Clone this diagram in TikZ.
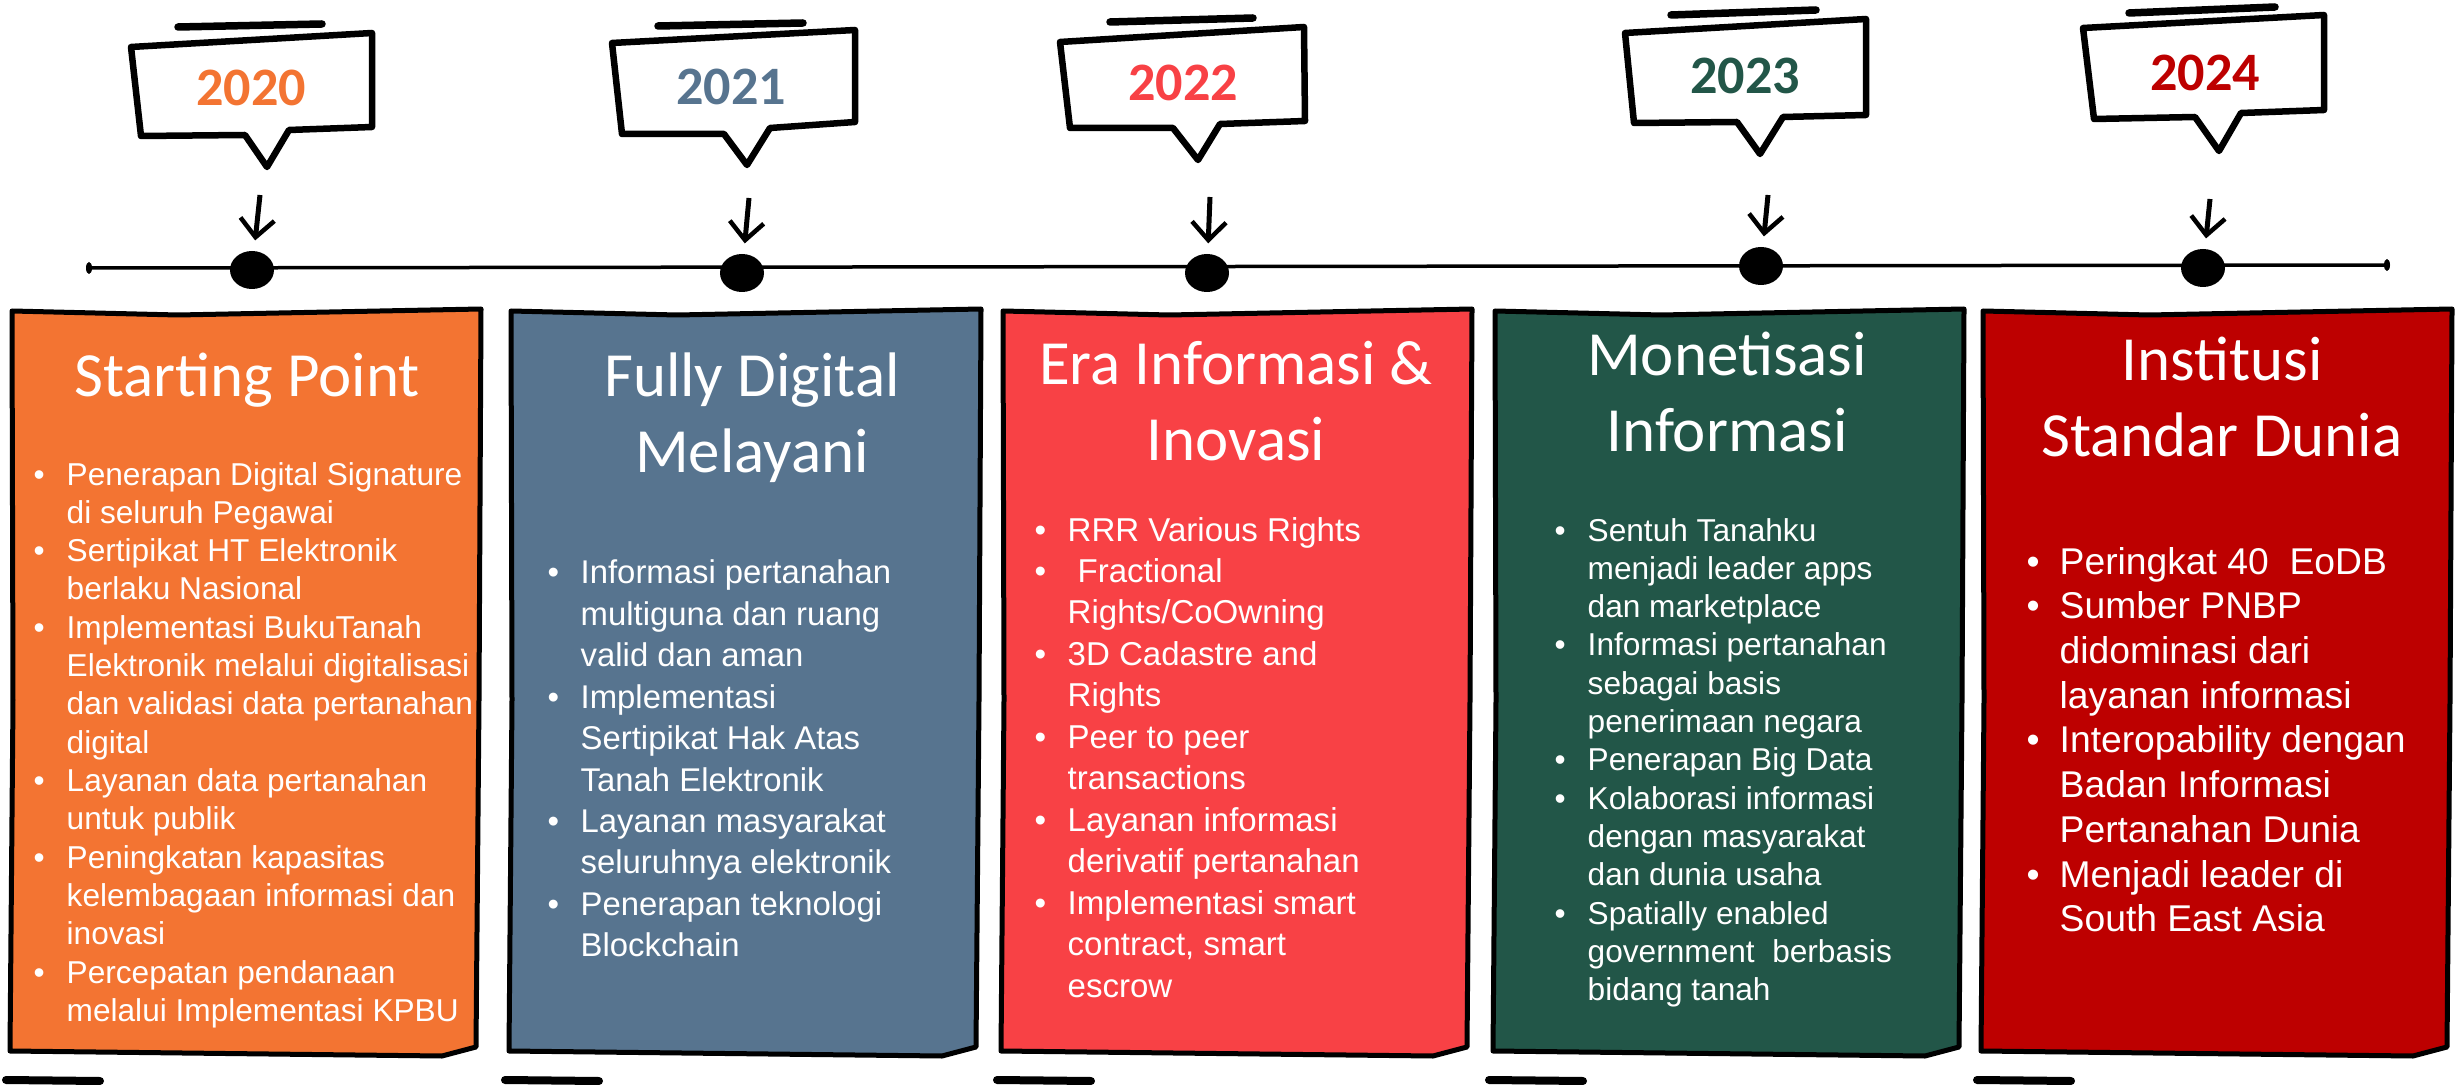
\documentclass[tikz,border=0pt]{standalone}
\usepackage{fontspec}
\usepackage{array}
\setmainfont{Liberation Sans}
\newfontfamily\titlefont{Carlito}
\usetikzlibrary{arrows.meta,positioning,calc,shapes.geometric}

\definecolor{orangeC}{HTML}{F37432}
\definecolor{slateC}{HTML}{57748F}
\definecolor{redC}{HTML}{F84145}
\definecolor{greenC}{HTML}{225648}
\definecolor{darkredC}{HTML}{BD0000}

\newcommand{\ttl}[1]{\begin{tabular}[t]{@{}c@{}}#1\end{tabular}}
\newcommand{\lst}[1]{\begin{tabular}[t]{@{}p{3.3mm}@{}l@{}}#1\end{tabular}}

\begin{document}
\begin{tikzpicture}[x=0.1mm, y=-0.1mm,
    card/.style={draw=black, line width=0.5mm, line join=round},
    bubble/.style={draw=black, fill=white, line width=0.65mm, line join=round, line cap=round},
    swoosh/.style={line width=0.75mm, line cap=round},
    tdot/.style={ellipse, fill=black, inner sep=0, minimum width=4.4mm, minimum height=3.8mm},
    yr/.style={font=\titlefont\bfseries\fontsize{15.4}{18}\selectfont, inner sep=0},
    head/.style={anchor=base, text=white, inner sep=0, font=\titlefont\fontsize{17.9}{21.5}\selectfont},
    body/.style={anchor=base west, text=white, inner sep=0},
    pointer/.style={-{Straight Barb[length=1.8mm,width=3.4mm,line width=0.45mm]}, line width=0.5mm, shorten >=1.0mm}]
  \useasboundingbox (0,0) rectangle (2460,1085);

  % timeline
  \coordinate (ts) at (89,268);
  \coordinate (te) at (2387,265);
  \draw[line width=0.35mm] (ts) -- (te);
  \fill (ts) ellipse (3 and 6);
  \fill (te) ellipse (3 and 6);
  \node[tdot] (d1) at (252,270) {};
  \node[tdot] (d2) at (742,273) {};
  \node[tdot] (d3) at (1207,273) {};
  \node[tdot] (d4) at (1761,266) {};
  \node[tdot] (d5) at (2203,268) {};

  % year bubbles
  \filldraw[bubble] (131,47) -- (372,33) -- (372,127) -- (289,130) -- (267,167) -- (245,135) -- (141,136) -- cycle;
  \draw[swoosh] (178,27) -- (322,24);
  \node[yr, text=orangeC] (y1) at (251,88) {2020};

  \filldraw[bubble] (612,43) -- (855,30) -- (855,122) -- (770,128) -- (747,165) -- (724,134) -- (622,134) -- cycle;
  \draw[swoosh] (658,26) -- (803,23);
  \node[yr, text=slateC] (y2) at (731,87) {2021};

  \filldraw[bubble] (1060,42) -- (1304,27) -- (1305,121) -- (1220,124) -- (1198,160) -- (1173,128) -- (1070,128) -- cycle;
  \draw[swoosh] (1110,22) -- (1253,18);
  \node[yr, text=redC] (y3) at (1183,83) {2022};

  \filldraw[bubble] (1625,33) -- (1866,19) -- (1866,115) -- (1783,117) -- (1760,154) -- (1737,122) -- (1634,123) -- cycle;
  \draw[swoosh] (1671,15) -- (1816,10);
  \node[yr, text=greenC] (y4) at (1745,76) {2023};

  \filldraw[bubble] (2083,28) -- (2324,15) -- (2324,110) -- (2241,113) -- (2219,151) -- (2195,117) -- (2094,119) -- cycle;
  \draw[swoosh] (2129,13) -- (2275,7);
  \node[yr, text=darkredC] (y5) at (2205,73) {2024};

  % arrows down to the dots
  \coordinate (a1) at (260,195);
  \coordinate (a2) at (749,198);
  \coordinate (a3) at (1210,197);
  \coordinate (a4) at (1768,195);
  \coordinate (a5) at (2210,199);
  \foreach \i in {1,...,5}
    \draw[pointer] (a\i) -- (d\i);

  % cards
  \foreach \l/\r/\c in {12/482/orangeC, 511/982/slateC, 1003/1473/redC, 1495/1965/greenC, 1983/2453/darkredC} {
    \filldraw[card, fill=\c] (\l,311) -- (\l+166,315) -- (\r-1,309) -- (\r-3,700) -- (\r-6,1047) -- (\r-40,1056)
      -- (\l-2,1051) -- (\l+1,700) -- cycle;
    \draw[line width=0.8mm, line cap=round] (\l-6,1080) -- (\l+88,1081);
  }

  \node[head] (t1) at (247,397) {\ttl{Starting Point}};
  \node[head] (t2) at (752,397) {\ttl{Fully Digital\\Melayani}};
  \node[head] (t3) at (1236,385) {\ttl{Era Informasi \&\\Inovasi}};
  \node[head] (t4) at (1727,376) {\ttl{Monetisasi\\Informasi}};
  \node[head] (t5) at (2222,381) {\ttl{Institusi\\Standar Dunia}};

  \node[body, font=\fontsize{9.0}{10.9}\selectfont] (l1) at (33,485) {\lst{%
    \textbullet & Penerapan Digital Signature\\
      & di seluruh Pegawai\\
    \textbullet & Sertipikat HT Elektronik\\
      & berlaku Nasional\\
    \textbullet & Implementasi BukuTanah\\
      & Elektronik melalui digitalisasi\\
      & dan validasi data pertanahan\\
      & digital\\
    \textbullet & Layanan data pertanahan\\
      & untuk publik\\
    \textbullet & Peningkatan kapasitas\\
      & kelembagaan informasi dan\\
      & inovasi\\
    \textbullet & Percepatan pendanaan\\
      & melalui Implementasi KPBU}};

  \node[body, font=\fontsize{9.35}{11.78}\selectfont] (l2) at (547,584) {\lst{%
    \textbullet & Informasi pertanahan\\
      & multiguna dan ruang\\
      & valid dan aman\\
    \textbullet & Implementasi\\
      & Sertipikat Hak Atas\\
      & Tanah Elektronik\\
    \textbullet & Layanan masyarakat\\
      & seluruhnya elektronik\\
    \textbullet & Penerapan teknologi\\
      & Blockchain}};

  \node[body, font=\fontsize{9.4}{11.8}\selectfont] (l3) at (1034,541) {\lst{%
    \textbullet & RRR Various Rights\\
    \textbullet & \hspace{0.3em}Fractional\\
      & Rights/CoOwning\\
    \textbullet & 3D Cadastre and\\
      & Rights\\
    \textbullet & Peer to peer\\
      & transactions\\
    \textbullet & Layanan informasi\\
      & derivatif pertanahan\\
    \textbullet & Implementasi smart\\
      & contract, smart\\
      & escrow}};

  \node[body, font=\fontsize{9}{10.9}\selectfont] (l4) at (1554,541) {\lst{%
    \textbullet & Sentuh Tanahku\\
      & menjadi leader apps\\
      & dan marketplace\\
    \textbullet & Informasi pertanahan\\
      & sebagai basis\\
      & penerimaan negara\\
    \textbullet & Penerapan Big Data\\
    \textbullet & Kolaborasi informasi\\
      & dengan masyarakat\\
      & dan dunia usaha\\
    \textbullet & Spatially enabled\\
      & government\ \ berbasis\\
      & bidang tanah}};

  \node[body, font=\fontsize{10.6}{12.73}\selectfont] (l5) at (2026,574) {\lst{%
    \textbullet & Peringkat 40\ \ EoDB\\
    \textbullet & Sumber PNBP\\
      & didominasi dari\\
      & layanan informasi\\
    \textbullet & Interopability dengan\\
      & Badan Informasi\\
      & Pertanahan Dunia\\
    \textbullet & Menjadi leader di\\
      & South East Asia}};
\end{tikzpicture}
\end{document}
